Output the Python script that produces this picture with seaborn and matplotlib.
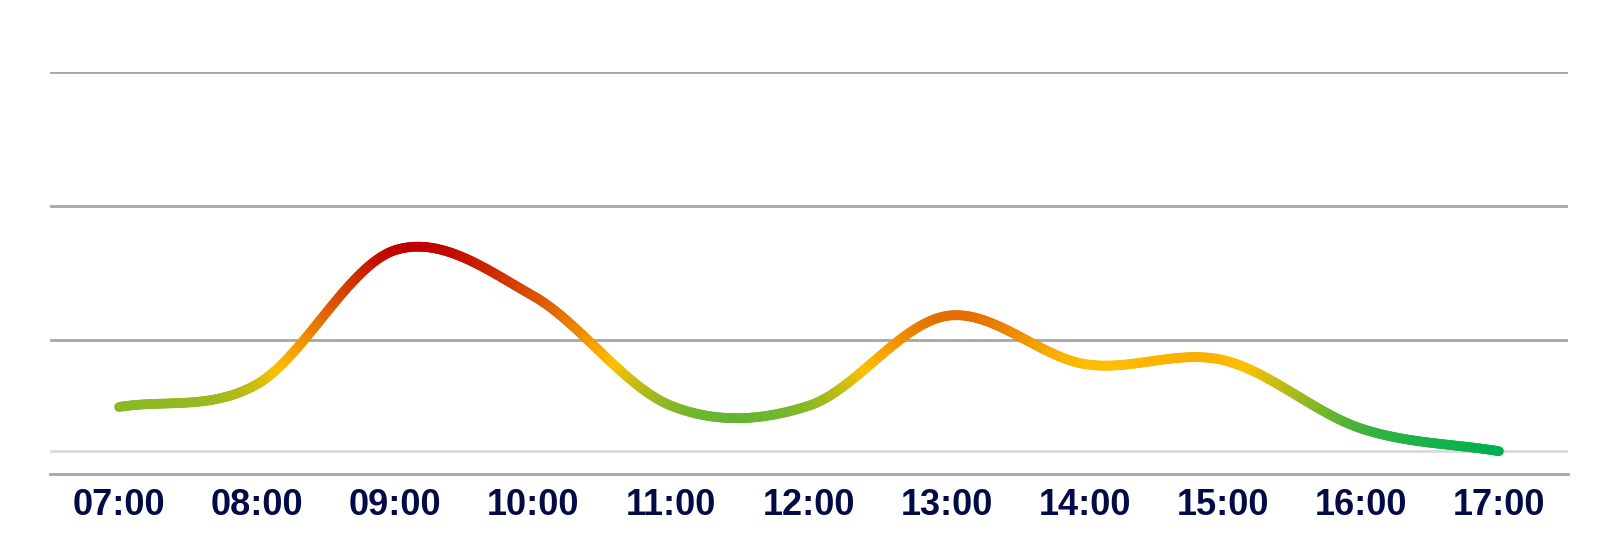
import numpy as np
import seaborn as sns
import matplotlib.pyplot as plt
from matplotlib.colors import LinearSegmentedColormap
from matplotlib.collections import LineCollection

# hourly readings
hours = ['07:00', '08:00', '09:00', '10:00', '11:00', '12:00',
         '13:00', '14:00', '15:00', '16:00', '17:00']
values = [5.0, 6.7, 16.7, 13.3, 5.1, 5.1, 11.8, 8.2, 8.5, 3.4, 1.7]
grid_levels = [0, 10, 20, 30]
ref_level = 1.7

sns.set_theme(style='white')
plt.rcParams['font.family'] = ['Liberation Sans', 'DejaVu Sans']


def smooth(y, n=60):
    # catmull-rom style smoothing, like a spreadsheet "smoothed line"
    y = np.asarray(y, dtype=float)
    k = len(y)
    m = np.zeros(k)
    m[1:-1] = (y[2:] - y[:-2]) / 2
    m[0] = y[1] - y[0]
    m[-1] = y[-1] - y[-2]
    xs, ys = [], []
    for i in range(k - 1):
        t = np.linspace(0, 1, n, endpoint=(i == k - 2))
        h00 = 2 * t**3 - 3 * t**2 + 1
        h10 = t**3 - 2 * t**2 + t
        h01 = -2 * t**3 + 3 * t**2
        h11 = t**3 - t**2
        xs.append(i + t)
        ys.append(h00 * y[i] + h10 * m[i] + h01 * y[i + 1] + h11 * m[i + 1])
    return np.concatenate(xs), np.concatenate(ys)


fig = plt.figure(figsize=(16.18, 5.56), dpi=100)
ax = fig.add_axes([50 / 1618, (556 - 474) / 556, 1518 / 1618, 402 / 556])

xs, ys = smooth(values)
pts = np.column_stack([xs, ys]).reshape(-1, 1, 2)
segs = np.concatenate([pts[:-1], pts[1:]], axis=1)
# green -> yellow -> red, yellow sits a bit below the middle
cmap = LinearSegmentedColormap.from_list(
    'traffic', [(0, '#00b050'), (0.41, '#ffc000'), (1, '#c00000')])
mid = (ys[:-1] + ys[1:]) / 2
lc = LineCollection(segs, cmap=cmap, norm=plt.Normalize(ys.min(), ys.max()),
                    linewidth=7.0, capstyle='round', joinstyle='round', zorder=3)
lc.set_array(mid)
ax.add_collection(lc)

for g in grid_levels[1:]:
    ax.axhline(g, color='#a6a6a6', lw=2, zorder=1)
ax.axhline(ref_level, color='#d9d9d9', lw=2, zorder=1)

ax.set_xlim(-0.5, len(hours) - 0.5)
ax.set_ylim(0, 30)
ax.set_xticks(range(len(hours)))
ax.set_xticklabels(hours, fontsize=26, fontweight='bold', color='#020b45')
ax.set_yticks([])
ax.tick_params(axis='x', length=0, pad=10)
sns.despine(ax=ax, left=True, right=True, top=True)
ax.spines['bottom'].set_color('#a6a6a6')
ax.spines['bottom'].set_linewidth(2)

fig.savefig('out.png', dpi=100)
